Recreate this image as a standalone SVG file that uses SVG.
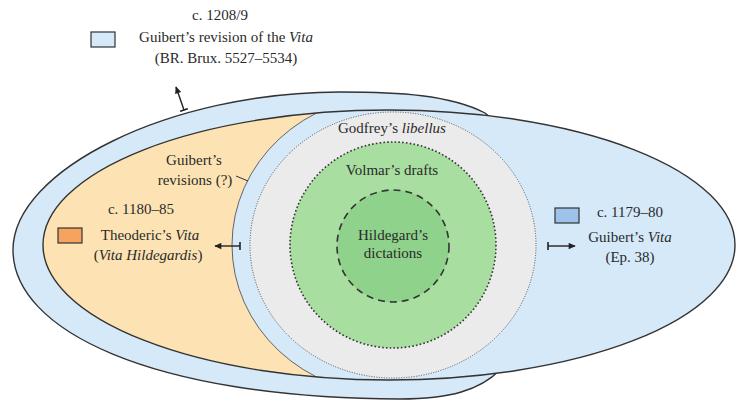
<svg xmlns="http://www.w3.org/2000/svg" width="736" height="400" viewBox="0 0 736 400">
<style>
text{font-family:"Liberation Serif","Times New Roman",serif;font-size:15px;fill:#2a2a2a;text-anchor:middle}
.it{font-style:italic}
.edge{fill:none;stroke:#333;stroke-width:1.4}
.conn{stroke:#222;stroke-width:1.4;fill:none}
</style>
<defs>
<marker id="head" viewBox="0 0 10 10" refX="9" refY="5" markerWidth="8" markerHeight="7" orient="auto" markerUnits="userSpaceOnUse"><path d="M0,0.5 L10,5 L0,9.5 Z" fill="#222"/></marker>
<marker id="bar" viewBox="0 0 2 10" refX="1" refY="5" markerWidth="2" markerHeight="8" orient="auto" markerUnits="userSpaceOnUse"><rect width="2" height="10" fill="#222"/></marker>
<clipPath id="leftOfCres"><path d="M0 0 H393 V95 A161 150 0 0 0 393 395 V400 H0 Z"/></clipPath>
<clipPath id="bigClip"><ellipse cx="389" cy="245" rx="346" ry="135"/></clipPath>
</defs>

<g id="guibert-revision-1208">
<path d="M13 250 C13 330 150 398 400 399 C450 399 480 390 500 370 L530 250 L500 125 L485 113 C450 95 400 92 340 92 C170 92 13 170 13 250 Z" fill="#d5e9f9" stroke="#333" stroke-width="1.4"/>
<rect x="91" y="32" width="24" height="15" fill="#d5e9f9" stroke="#333" stroke-width="1.2"/>
<text x="220" y="20">c. 1208/9</text>
<text x="226" y="42">Guibert’s revision of the <tspan class="it">Vita</tspan></text>
<text x="226" y="63">(BR. Brux. 5527–5534)</text>
</g>

<g id="guibert-vita-1179">
<ellipse cx="389" cy="245" rx="346" ry="135" fill="#d5e9f9"/>
<rect x="555" y="208" width="24" height="15" fill="#9ec3ea" stroke="#333" stroke-width="1.2"/>
<text x="630" y="217">c. 1179–80</text>
<text x="630" y="242">Guibert’s <tspan class="it">Vita</tspan></text>
<text x="630" y="262">(Ep. 38)</text>
</g>

<g id="theoderic-vita">
<ellipse cx="389" cy="245" rx="346" ry="135" fill="#fde3b3" clip-path="url(#leftOfCres)"/>
<path d="M393 95 A161 150 0 0 0 393 395" fill="none" stroke="#555" stroke-width="0.9" clip-path="url(#bigClip)"/>
<rect x="58" y="228" width="24" height="15" fill="#f5a35e" stroke="#333" stroke-width="1.2"/>
<text x="141" y="214">c. 1180–85</text>
<text x="150" y="240">Theoderic’s <tspan class="it">Vita</tspan></text>
<text x="148" y="260">(<tspan class="it">Vita Hildegardis</tspan>)</text>
<text x="194" y="165">Guibert’s</text>
<text x="195" y="185">revisions (?)</text>
</g>

<g id="godfrey-libellus">
<ellipse cx="393" cy="245" rx="143" ry="133" fill="#ecebeb" stroke="#444" stroke-width="0.9" stroke-dasharray="1 1.5"/>
<text x="392" y="133">Godfrey’s <tspan class="it">libellus</tspan></text>
</g>

<ellipse id="guibert-vita-outline" cx="389" cy="245" rx="346" ry="135" class="edge"/>

<g id="volmar-drafts">
<circle cx="393" cy="245" r="103" fill="#a8dea0" stroke="#333" stroke-width="1.6" stroke-dasharray="1.6 2.2"/>
<text x="392" y="175">Volmar’s drafts</text>
</g>

<g id="hildegard-dictations">
<circle cx="393" cy="246" r="56" fill="#8fd28b" stroke="#333" stroke-width="1.6" stroke-dasharray="7 5"/>
<text x="393" y="240">Hildegard’s</text>
<text x="393" y="258">dictations</text>
</g>

<g id="connectors">
<line class="conn" x1="184" y1="110" x2="176" y2="87" marker-start="url(#bar)" marker-end="url(#head)"/>
<line class="conn" x1="240" y1="246" x2="215" y2="246" marker-start="url(#bar)" marker-end="url(#head)"/>
<line class="conn" x1="548" y1="246" x2="575" y2="246" marker-start="url(#bar)" marker-end="url(#head)"/>
<line x1="236" y1="176" x2="248" y2="181" stroke="#333" stroke-width="1"/>
</g>
</svg>
